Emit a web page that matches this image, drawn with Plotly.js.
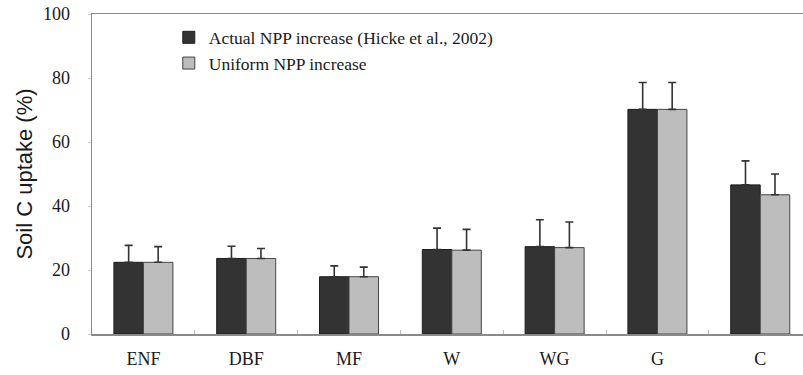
<!DOCTYPE html>
<html>
<head>
<meta charset="utf-8">
<script src="https://cdn.plot.ly/plotly-3.0.1.min.js"></script>
<style>html,body{margin:0;padding:0;background:#fff;}#chart{width:803px;height:375px;}</style>
</head>
<body>
<div id="chart"></div>
<script>
const categories = ["ENF", "DBF", "MF", "W", "WG", "G", "C"];
const actualValues = [22.4, 23.6, 17.9, 26.4, 27.3, 70.2, 46.6];
const actualErrors = [5.3, 3.8, 3.4, 6.7, 8.4, 8.4, 7.5];
const uniformValues = [22.4, 23.6, 17.9, 26.2, 27.0, 70.2, 43.5];
const uniformErrors = [4.9, 3.1, 3.0, 6.5, 8.0, 8.4, 6.5];
const zeros = categories.map(() => 0);
const seriesNames = ["Actual NPP increase (Hicke et al., 2002)", "Uniform NPP increase"];

const errStyle = {type: "data", symmetric: false, visible: true, color: "#333333", thickness: 1.6, width: 4};

const traces = [
  {
    type: "bar", name: seriesNames[0], x: categories, y: actualValues,
    marker: {color: "#333333", line: {color: "#1e1e1e", width: 1}},
    error_y: Object.assign({array: actualErrors, arrayminus: zeros}, errStyle),
    hoverinfo: "none"
  },
  {
    type: "bar", name: seriesNames[1], x: categories, y: uniformValues,
    marker: {color: "#bdbdbd", line: {color: "#444444", width: 1}},
    error_y: Object.assign({array: uniformErrors, arrayminus: zeros}, errStyle),
    hoverinfo: "none"
  }
];

const layout = {
  width: 803, height: 375,
  margin: {l: 92, r: 0, t: 14, b: 41, pad: 0},
  paper_bgcolor: "#ffffff", plot_bgcolor: "#ffffff",
  barmode: "group", bargap: 0.426, bargroupgap: 0,
  showlegend: true,
  legend: {
    x: 0.108, y: 0.983, xanchor: "left", yanchor: "top",
    bgcolor: "rgba(0,0,0,0)", borderwidth: 0,
    font: {family: "'Liberation Serif', 'Times New Roman', serif", size: 17.5, color: "#1a1a1a"},
    tracegroupgap: 0
  },
  xaxis: {
    type: "category", range: [-0.5, 6.416],
    showline: true, linecolor: "#8a8a8a", linewidth: 1.5, mirror: true,
    showgrid: false, zeroline: false,
    ticks: "inside", tickson: "boundaries", ticklen: 4, tickcolor: "#bbbbbb",
    ticklabelstandoff: 8,
    tickfont: {family: "'Liberation Serif', 'Times New Roman', serif", size: 18, color: "#1a1a1a"}
  },
  yaxis: {
    range: [0, 100], tickvals: [0, 20, 40, 60, 80, 100],
    showline: true, linecolor: "#8a8a8a", linewidth: 1.5, mirror: false,
    showgrid: false, zeroline: false,
    ticks: "outside", ticklen: 3, tickcolor: "#cccccc",
    ticklabelstandoff: 14,
    tickfont: {family: "'Liberation Serif', 'Times New Roman', serif", size: 18, color: "#1a1a1a"},
    title: {text: "Soil C uptake (%)", standoff: 4,
      font: {family: "'Liberation Sans', Arial, sans-serif", size: 22, color: "#1a1a1a"}}
  }
};

Plotly.newPlot("chart", traces, layout, {displayModeBar: false, staticPlot: true});
</script>
</body>
</html>
